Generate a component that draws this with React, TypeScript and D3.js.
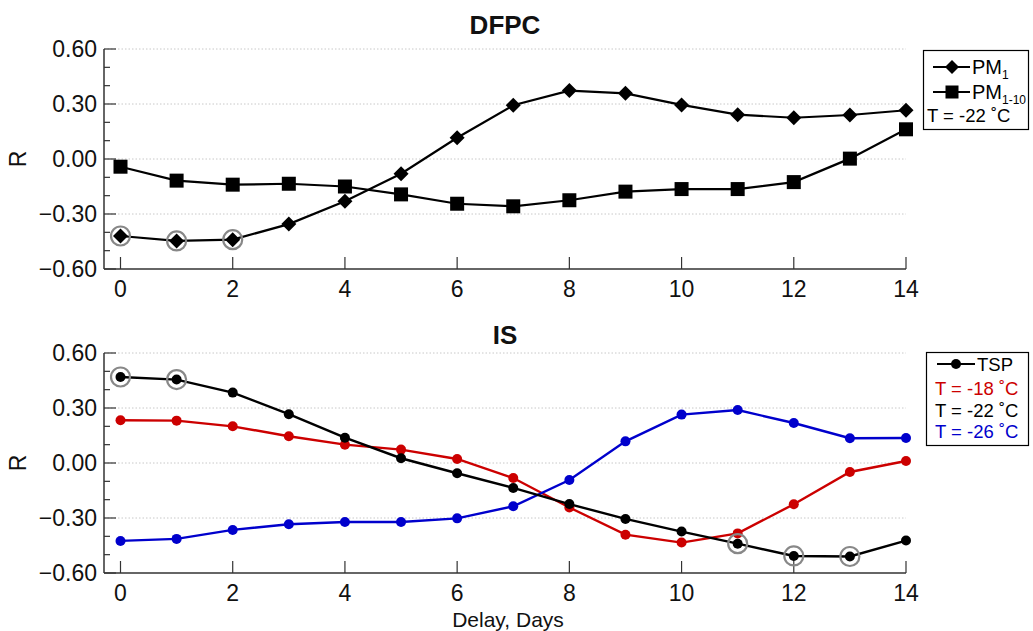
import React from "react";
import * as d3 from "d3";

// Delay in days (x axis)
const days = [0, 1, 2, 3, 4, 5, 6, 7, 8, 9, 10, 11, 12, 13, 14];

// DFPC panel, T = -22 °C
const pm1 = [-0.42, -0.447, -0.44, -0.355, -0.23, -0.08, 0.116, 0.293, 0.373, 0.358, 0.295, 0.242, 0.225, 0.24, 0.266];
const pm110 = [-0.042, -0.118, -0.14, -0.135, -0.15, -0.193, -0.244, -0.258, -0.225, -0.178, -0.164, -0.164, -0.126, 0.002, 0.162];
const pm1Circled = [0, 1, 2];

// IS panel, TSP at three temperatures
const tsp18 = [0.233, 0.231, 0.2, 0.146, 0.1, 0.073, 0.022, -0.082, -0.243, -0.391, -0.434, -0.384, -0.225, -0.049, 0.011];
const tsp22 = [0.469, 0.455, 0.384, 0.266, 0.138, 0.026, -0.056, -0.136, -0.224, -0.305, -0.374, -0.44, -0.507, -0.51, -0.423];
const tsp26 = [-0.425, -0.414, -0.365, -0.334, -0.322, -0.322, -0.302, -0.236, -0.093, 0.118, 0.264, 0.289, 0.218, 0.135, 0.136];
const tsp22Circled = [0, 1, 11, 12, 13];

const yMajorTicks = [-0.6, -0.3, 0, 0.3, 0.6];
const yMinorTicks = d3.range(-6, 7).map((v) => v / 10);
const xTicks = [0, 2, 4, 6, 8, 10, 12, 14];

const RED = "#cc0000";
const BLUE = "#0000cc";
const FONT = "'Liberation Sans', Arial, Helvetica, sans-serif";

const W = 1033;
const H = 631;
const axisLeft = 104;
const axisRight = 906;

const x = d3.scaleLinear().domain([0, 14]).range([120.5, 906]);

function Axes({ y, title, titleY }: { y: d3.ScaleLinear<number, number>; title: string; titleY: number }) {
  const [y0] = y.range();
  return (
    <g>
      {/* dotted grid */}
      {yMajorTicks.filter((t) => t > -0.6).map((t) => (
        <line key={"g" + t} x1={axisLeft} x2={axisRight} y1={y(t)} y2={y(t)} stroke="#c8c8c8" strokeWidth={1} strokeDasharray="1.5,2" />
      ))}
      {/* y axis */}
      <line x1={axisLeft} x2={axisLeft} y1={y(0.6)} y2={y(-0.6)} stroke="#333" strokeWidth={1.5} />
      {yMinorTicks.map((t) => {
        const major = yMajorTicks.some((m) => Math.abs(m - t) < 1e-6);
        return (
          <line key={"t" + t} x1={axisLeft} x2={axisLeft + (major ? 12 : 6)} y1={y(t)} y2={y(t)} stroke="#333" strokeWidth={1.2} />
        );
      })}
      {yMajorTicks.map((t) => (
        <text key={"l" + t} x={97} y={y(t)} dy="0.36em" textAnchor="end" fontSize={23} fontFamily={FONT} fill="#111">
          {d3.format(".2f")(t)}
        </text>
      ))}
      {/* x axis */}
      <line x1={axisLeft} x2={axisRight} y1={y0} y2={y0} stroke="#333" strokeWidth={1.5} />
      {xTicks.map((t) => (
        <g key={"x" + t}>
          <line x1={x(t)} x2={x(t)} y1={y0} y2={y0 - 12} stroke="#333" strokeWidth={1.2} />
          <text x={x(t)} y={y0 + 28} textAnchor="middle" fontSize={23} fontFamily={FONT} fill="#111">
            {t}
          </text>
        </g>
      ))}
      <text x={0} y={0} transform={`translate(26,${y(0)}) rotate(-90)`} textAnchor="middle" fontSize={23} fontFamily={FONT} fill="#111">
        R
      </text>
      <text x={505} y={titleY} textAnchor="middle" fontSize={26} fontWeight="bold" fontFamily={FONT} fill="#111">
        {title}
      </text>
    </g>
  );
}

function Diamond({ cx, cy, r = 7.5 }: { cx: number; cy: number; r?: number }) {
  return <path d={`M${cx},${cy - r}L${cx + r},${cy}L${cx},${cy + r}L${cx - r},${cy}Z`} fill="#000" />;
}

function Square({ cx, cy, s = 14 }: { cx: number; cy: number; s?: number }) {
  return <rect x={cx - s / 2} y={cy - s / 2} width={s} height={s} fill="#000" />;
}

export default function App() {
  const yTop = d3.scaleLinear().domain([-0.6, 0.6]).range([269, 49]);
  const yBot = d3.scaleLinear().domain([-0.6, 0.6]).range([573, 353]);

  const lineTop = d3.line<number>().x((_, i) => x(days[i])).y((v) => yTop(v));
  const lineBot = d3.line<number>().x((_, i) => x(days[i])).y((v) => yBot(v));

  return (
    <svg width={W} height={H} style={{ position: "absolute", left: 0, top: 0, background: "#fff" }}>
      <rect width={W} height={H} fill="#fff" />

      {/* DFPC panel */}
      <Axes y={yTop} title="DFPC" titleY={34} />
      <path d={lineTop(pm110) || ""} fill="none" stroke="#000" strokeWidth={2.2} />
      <path d={lineTop(pm1) || ""} fill="none" stroke="#000" strokeWidth={2.2} />
      {pm1Circled.map((i) => (
        <circle key={"c" + i} cx={x(days[i])} cy={yTop(pm1[i])} r={9.5} fill="none" stroke="#888" strokeWidth={2.2} />
      ))}
      {pm110.map((v, i) => <Square key={"s" + i} cx={x(days[i])} cy={yTop(v)} />)}
      {pm1.map((v, i) => <Diamond key={"d" + i} cx={x(days[i])} cy={yTop(v)} />)}

      {/* DFPC legend */}
      <g fontFamily={FONT} fontSize={18.5} fill="#000">
        <rect x={923.5} y={50.5} width={105} height={79} fill="#fff" stroke="#000" strokeWidth={1.2} />
        <line x1={933} x2={970} y1={67} y2={67} stroke="#000" strokeWidth={2.2} />
        <Diamond cx={952} cy={67} r={7} />
        <text x={972} y={73.5} fontSize={20}>
          PM<tspan fontSize={12} dy={5}>1</tspan>
        </text>
        <line x1={933} x2={970} y1={92} y2={92} stroke="#000" strokeWidth={2.2} />
        <Square cx={952} cy={92} s={13} />
        <text x={972} y={98.5} fontSize={20}>
          PM<tspan fontSize={12} dy={5}>1-10</tspan>
        </text>
        <text x={927} y={122}>T = -22 ˚C</text>
      </g>

      {/* IS panel */}
      <Axes y={yBot} title="IS" titleY={344} />
      {[
        { v: tsp18, c: RED },
        { v: tsp26, c: BLUE },
        { v: tsp22, c: "#000" },
      ].map((s, k) => (
        <g key={"ser" + k}>
          <path d={lineBot(s.v) || ""} fill="none" stroke={s.c} strokeWidth={2.4} />
          {s.v.map((v, i) => (
            <circle key={i} cx={x(days[i])} cy={yBot(v)} r={5} fill={s.c} />
          ))}
        </g>
      ))}
      {tsp22Circled.map((i) => (
        <circle key={"cc" + i} cx={x(days[i])} cy={yBot(tsp22[i])} r={9.5} fill="none" stroke="#888" strokeWidth={2.2} />
      ))}

      {/* IS legend */}
      <g fontFamily={FONT} fontSize={18.5}>
        <rect x={926.5} y={352.5} width={102} height={93} fill="#fff" stroke="#000" strokeWidth={1.2} />
        <line x1={937} x2={975} y1={364} y2={364} stroke="#000" strokeWidth={2.2} />
        <circle cx={956} cy={364} r={5} fill="#000" />
        <text x={977} y={370.5} fill="#000">TSP</text>
        <text x={935} y={395} fill={RED}>T = -18 ˚C</text>
        <text x={935} y={417} fill="#000">T = -22 ˚C</text>
        <text x={935} y={438} fill={BLUE}>T = -26 ˚C</text>
      </g>

      <text x={508} y={627} textAnchor="middle" fontSize={21} fontFamily={FONT} fill="#111">
        Delay, Days
      </text>
    </svg>
  );
}
